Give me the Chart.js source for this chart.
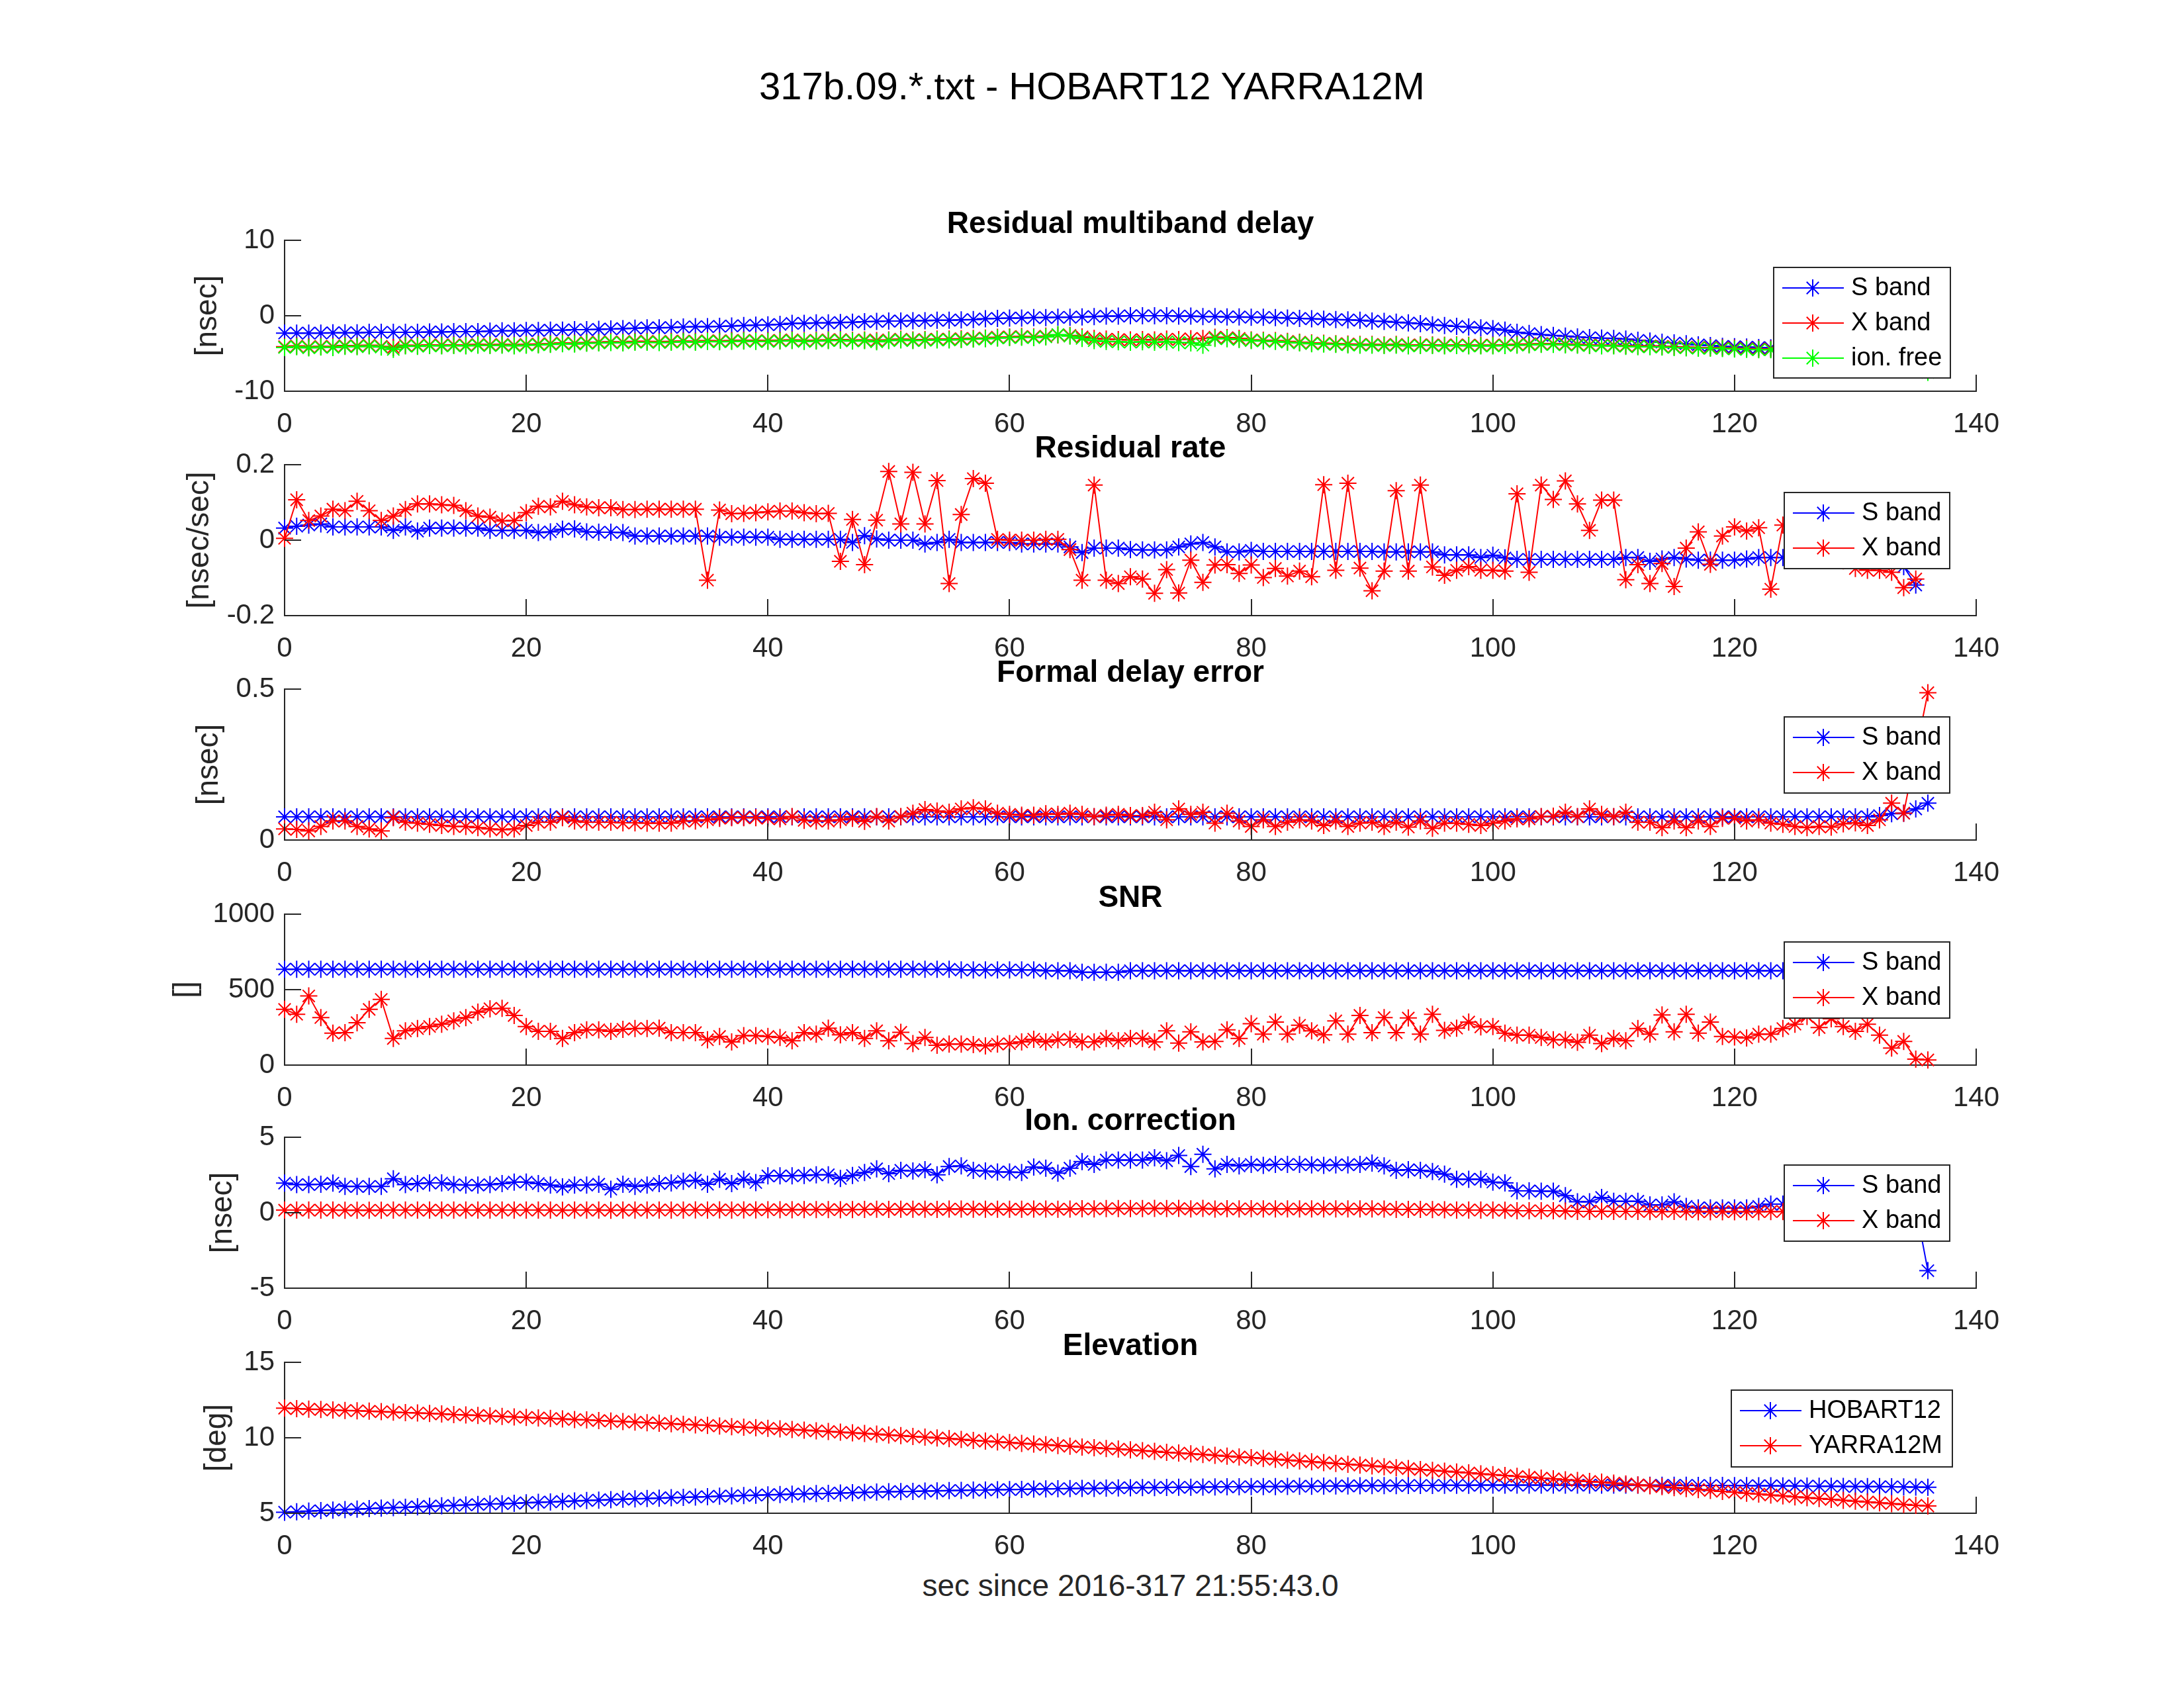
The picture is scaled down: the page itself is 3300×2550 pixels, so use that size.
<!DOCTYPE html>
<html>
<head>
<meta charset="utf-8">
<title>317b.09 - HOBART12 YARRA12M</title>
<script src="https://cdn.jsdelivr.net/npm/chart.js@4.4.1/dist/chart.umd.min.js"></script>
<style>
  body { margin: 0; background: #fff; }
  #fig { position: relative; width: 3300px; height: 2550px; background: #fff; font-family: "Liberation Sans", Arial, sans-serif; }
  #fig canvas { position: absolute; left: 0; }
  .lbl { position: absolute; text-align: center; white-space: nowrap; }
</style>
</head>
<body>
<div id="fig">
  <div class="lbl" style="left:0;width:3300px;top:100px;font-size:58px;line-height:60px;color:#000">317b.09.*.txt - HOBART12 YARRA12M</div>
  <div class="lbl" style="left:430px;width:2556px;top:2369px;font-size:46px;line-height:52px;color:#262626">sec since 2016-317 21:55:43.0</div>
</div>
<script>
// sample times, sec
var secs = [0,1,2,3,4,5,6,7,8,9,10,11,12,13,14,15,16,17,18,19,
  20,21,22,23,24,25,26,27,28,29,30,31,32,33,34,35,36,37,38,39,
  40,41,42,43,44,45,46,47,48,49,50,51,52,53,54,55,56,57,58,59,
  60,61,62,63,64,65,66,67,68,69,70,71,72,73,74,75,76,77,78,79,
  80,81,82,83,84,85,86,87,88,89,90,91,92,93,94,95,96,97,98,99,
  100,101,102,103,104,105,106,107,108,109,110,111,112,113,114,115,116,117,118,119,
  120,121,122,123,124,125,126,127,128,129,130,131,132,133,134,135,136];
// rate has one sample less
var secsRate = secs.slice(0, 136);

// residual multiband delay [nsec]
var delayS = [-2.3,-2.3,-2.3,-2.3,-2.25,-2.25,-2.25,-2.2,-2.2,-2.2,
  -2.2,-2.2,-2.15,-2.15,-2.1,-2.1,-2.1,-2.05,-2.0,-2.0,
  -1.95,-1.95,-1.9,-1.9,-1.85,-1.85,-1.8,-1.75,-1.7,-1.65,
  -1.6,-1.6,-1.55,-1.5,-1.45,-1.45,-1.4,-1.35,-1.3,-1.25,
  -1.2,-1.15,-1.0,-1.0,-0.95,-0.95,-0.9,-0.85,-0.8,-0.75,
  -0.7,-0.7,-0.65,-0.65,-0.6,-0.6,-0.55,-0.5,-0.4,-0.35,
  -0.3,-0.3,-0.25,-0.25,-0.2,-0.2,-0.15,-0.1,-0.05,-0.05,
  0.0,0.0,0.0,0.0,-0.05,-0.05,-0.1,-0.1,-0.15,-0.15,
  -0.2,-0.2,-0.25,-0.3,-0.35,-0.4,-0.45,-0.5,-0.55,-0.6,
  -0.7,-0.75,-0.85,-0.95,-1.05,-1.2,-1.3,-1.4,-1.5,-1.6,
  -1.7,-1.9,-2.2,-2.35,-2.5,-2.6,-2.7,-2.8,-2.9,-2.95,
  -3.0,-3.1,-3.25,-3.35,-3.5,-3.6,-3.7,-3.85,-3.95,-4.05,
  -4.1,-4.15,-4.2,-4.25,-4.3,-4.3,-4.4,-4.45,-4.5,-4.55,
  -4.6,-4.65,-4.7,-4.75,-4.8,-4.85,-4.9];
var delayX = [-4.1,-4.0,-4.15,-4.05,-4.1,-3.95,-4.0,-3.9,-4.05,-4.2,
  -3.9,-3.95,-3.85,-3.9,-3.85,-3.9,-3.8,-3.85,-3.8,-3.9,
  -3.8,-3.75,-3.7,-3.6,-3.65,-3.55,-3.5,-3.45,-3.5,-3.4,
  -3.4,-3.45,-3.4,-3.35,-3.4,-3.3,-3.35,-3.3,-3.25,-3.3,
  -3.3,-3.25,-3.2,-3.3,-3.25,-3.2,-3.15,-3.25,-3.2,-3.3,
  -3.2,-3.1,-3.2,-3.15,-3.1,-3.1,-3.05,-3.0,-2.95,-2.85,
  -2.8,-2.75,-2.8,-2.7,-2.55,-2.6,-2.8,-3.0,-3.1,-3.15,
  -3.2,-3.15,-3.2,-3.1,-3.15,-3.05,-3.0,-2.85,-2.9,-3.0,
  -3.2,-3.25,-3.3,-3.4,-3.5,-3.6,-3.65,-3.7,-3.75,-3.8,
  -3.8,-3.85,-3.8,-3.9,-3.85,-3.85,-3.9,-3.85,-3.9,-3.9,
  -3.9,-3.85,-3.8,-3.75,-3.7,-3.7,-3.75,-3.8,-3.85,-3.9,
  -3.9,-3.95,-4.0,-4.0,-4.05,-4.1,-4.15,-4.2,-4.2,-4.25,
  -4.3,-4.35,-4.4,-4.4,-4.45,-4.5,-4.55,-4.6,-4.6,-4.65,
  -4.7,-4.75,-4.8,-4.85,-4.9,-5.0,-5.3];
var delayIon = [-4.2,-4.1,-4.25,-4.15,-4.2,-4.05,-4.1,-4.0,-4.15,-4.45,
  -4.0,-4.05,-3.95,-4.0,-3.95,-4.0,-3.9,-3.95,-3.9,-4.0,
  -3.9,-3.85,-3.8,-3.7,-3.75,-3.65,-3.6,-3.55,-3.6,-3.5,
  -3.5,-3.55,-3.5,-3.45,-3.5,-3.4,-3.45,-3.4,-3.35,-3.4,
  -3.4,-3.35,-3.3,-3.4,-3.35,-3.3,-3.25,-3.35,-3.3,-3.45,
  -3.3,-3.2,-3.3,-3.25,-3.2,-3.2,-3.15,-3.1,-3.05,-2.95,
  -2.9,-2.85,-2.9,-2.8,-2.5,-2.7,-3.0,-3.3,-3.4,-3.45,
  -3.5,-3.45,-3.5,-3.45,-3.55,-3.6,-3.9,-3.0,-3.05,-3.15,
  -3.3,-3.35,-3.4,-3.5,-3.6,-3.7,-3.75,-3.8,-3.85,-3.9,
  -3.9,-3.95,-3.9,-4.0,-3.95,-3.95,-4.0,-3.95,-4.0,-4.0,
  -4.0,-3.95,-3.9,-3.85,-3.8,-3.8,-3.85,-3.9,-3.95,-4.0,
  -4.0,-4.05,-4.1,-4.1,-4.15,-4.2,-4.25,-4.3,-4.3,-4.35,
  -4.4,-4.45,-4.5,-4.5,-4.55,-4.6,-4.65,-4.7,-4.7,-4.75,
  -4.8,-4.85,-4.9,-4.95,-5.0,-5.2,-7.5];

// residual rate [nsec/sec]
var rateS = [0.032,0.037,0.040,0.043,0.035,0.035,0.035,0.035,0.035,0.026,
  0.035,0.024,0.032,0.032,0.032,0.032,0.032,0.026,0.026,0.026,
  0.026,0.020,0.022,0.029,0.030,0.022,0.021,0.021,0.020,0.011,
  0.011,0.011,0.011,0.011,0.011,0.011,0.008,0.008,0.008,0.008,
  0.008,0.002,0.002,0.002,0.002,0.002,0.002,-0.006,0.012,0.003,
  0.000,0.000,0.000,-0.010,-0.006,0.002,-0.006,-0.006,-0.006,-0.006,
  -0.006,-0.010,-0.010,-0.010,-0.010,-0.018,-0.033,-0.021,-0.021,-0.021,
  -0.025,-0.026,-0.026,-0.026,-0.018,-0.010,-0.006,-0.018,-0.031,-0.031,
  -0.027,-0.030,-0.030,-0.030,-0.030,-0.030,-0.030,-0.030,-0.030,-0.030,
  -0.030,-0.031,-0.031,-0.031,-0.031,-0.031,-0.039,-0.039,-0.039,-0.046,
  -0.040,-0.047,-0.051,-0.051,-0.051,-0.051,-0.051,-0.051,-0.051,-0.051,
  -0.051,-0.046,-0.046,-0.056,-0.050,-0.046,-0.050,-0.053,-0.053,-0.053,
  -0.053,-0.050,-0.046,-0.046,-0.046,-0.045,-0.045,-0.044,-0.044,-0.043,
  -0.043,-0.044,-0.045,-0.050,-0.070,-0.119];
var rateX = [0.005,0.107,0.052,0.064,0.082,0.078,0.103,0.078,0.052,0.064,
  0.081,0.096,0.096,0.094,0.092,0.078,0.064,0.061,0.051,0.052,
  0.073,0.090,0.088,0.103,0.094,0.088,0.086,0.086,0.081,0.081,
  0.082,0.082,0.082,0.082,0.082,-0.106,0.080,0.070,0.071,0.073,
  0.075,0.077,0.077,0.073,0.070,0.071,-0.056,0.055,-0.065,0.053,
  0.182,0.043,0.180,0.043,0.158,-0.115,0.068,0.163,0.151,0.002,
  0.000,0.000,0.000,0.002,0.002,-0.025,-0.106,0.146,-0.106,-0.115,
  -0.097,-0.103,-0.141,-0.078,-0.140,-0.053,-0.112,-0.066,-0.065,-0.088,
  -0.066,-0.099,-0.075,-0.095,-0.082,-0.097,0.147,-0.080,0.151,-0.074,
  -0.134,-0.082,0.131,-0.082,0.146,-0.071,-0.093,-0.080,-0.070,-0.080,
  -0.080,-0.082,0.123,-0.085,0.146,0.108,0.157,0.096,0.026,0.106,
  0.106,-0.105,-0.065,-0.115,-0.062,-0.123,-0.021,0.022,-0.064,0.011,
  0.035,0.024,0.033,-0.130,0.040,0.005,-0.030,0.010,-0.040,-0.055,
  -0.075,-0.080,-0.080,-0.085,-0.126,-0.103];

// formal delay error [nsec]
var errS = [0.077,0.077,0.077,0.077,0.077,0.077,0.077,0.077,0.077,0.077,
  0.077,0.077,0.077,0.077,0.077,0.077,0.077,0.077,0.077,0.077,
  0.077,0.077,0.077,0.077,0.077,0.077,0.077,0.077,0.077,0.077,
  0.077,0.077,0.077,0.077,0.077,0.077,0.077,0.077,0.077,0.077,
  0.077,0.077,0.077,0.077,0.077,0.077,0.077,0.077,0.077,0.077,
  0.077,0.077,0.077,0.077,0.077,0.077,0.077,0.077,0.077,0.077,
  0.077,0.077,0.077,0.077,0.077,0.077,0.077,0.077,0.077,0.077,
  0.077,0.077,0.077,0.077,0.077,0.077,0.077,0.077,0.077,0.077,
  0.077,0.077,0.077,0.077,0.077,0.077,0.077,0.077,0.077,0.077,
  0.077,0.077,0.077,0.077,0.077,0.077,0.077,0.077,0.077,0.077,
  0.077,0.077,0.077,0.077,0.077,0.077,0.077,0.077,0.077,0.077,
  0.077,0.077,0.077,0.077,0.077,0.077,0.077,0.077,0.077,0.077,
  0.077,0.077,0.077,0.077,0.077,0.077,0.077,0.077,0.077,0.077,
  0.077,0.077,0.081,0.087,0.089,0.103,0.122];
var errX = [0.037,0.035,0.030,0.045,0.063,0.063,0.045,0.037,0.030,0.074,
  0.059,0.056,0.052,0.048,0.045,0.045,0.041,0.037,0.034,0.037,
  0.048,0.059,0.059,0.074,0.063,0.059,0.059,0.059,0.057,0.057,
  0.056,0.056,0.056,0.063,0.063,0.067,0.072,0.074,0.074,0.074,
  0.072,0.070,0.078,0.065,0.063,0.063,0.067,0.072,0.062,0.078,
  0.063,0.078,0.089,0.101,0.096,0.092,0.103,0.107,0.103,0.089,
  0.085,0.082,0.082,0.087,0.085,0.089,0.085,0.078,0.082,0.085,
  0.081,0.081,0.092,0.067,0.103,0.085,0.092,0.056,0.089,0.063,
  0.045,0.067,0.045,0.059,0.067,0.063,0.048,0.063,0.045,0.056,
  0.059,0.045,0.059,0.043,0.063,0.039,0.056,0.056,0.052,0.048,
  0.056,0.063,0.070,0.070,0.078,0.079,0.092,0.078,0.103,0.085,
  0.078,0.092,0.059,0.059,0.041,0.063,0.041,0.063,0.045,0.072,
  0.072,0.063,0.067,0.056,0.052,0.045,0.041,0.045,0.043,0.054,
  0.057,0.048,0.067,0.122,0.089,0.290,0.488];

// SNR
var snrS = [635,635,635,635,635,635,635,635,635,635,
  635,635,635,635,635,635,635,635,635,635,
  635,635,635,635,635,635,635,635,635,635,
  635,635,635,635,635,635,635,635,635,635,
  635,635,635,635,635,635,635,635,635,635,
  635,635,635,635,635,635,630,630,630,630,
  630,630,630,625,625,625,615,615,615,615,
  625,625,625,625,625,625,625,625,625,625,
  625,625,625,625,625,625,625,625,625,625,
  625,625,625,625,625,625,625,625,625,625,
  625,625,625,625,625,625,625,625,625,625,
  625,625,625,625,625,625,625,625,625,625,
  625,625,625,625,625,625,625,625,625,625,
  625,625,625,625,625,625,625];
var snrX = [369,337,458,315,212,215,281,369,435,176,
  227,242,256,271,293,315,351,373,376,329,
  256,224,224,176,215,234,234,224,237,242,
  242,245,215,215,215,168,190,154,195,195,
  190,183,161,215,205,245,201,215,176,227,
  161,217,142,183,132,139,139,136,127,139,
  142,154,171,154,168,171,154,154,176,161,
  176,176,154,227,146,220,154,157,234,176,
  274,205,285,205,264,227,201,293,205,329,
  215,315,215,312,205,337,230,245,285,253,
  256,212,198,198,183,168,168,151,198,142,
  176,161,242,205,332,220,337,212,285,190,
  186,180,205,205,242,271,322,249,307,256,
  224,271,198,113,157,40,34];

// ionospheric correction [nsec]
var ionS = [1.96,1.86,1.86,1.89,1.96,1.74,1.74,1.74,1.74,2.25,
  1.86,1.93,1.97,1.97,1.86,1.83,1.83,1.86,1.93,2.03,
  2.03,1.93,1.83,1.71,1.83,1.83,1.89,1.56,1.89,1.74,
  1.83,1.93,1.97,2.08,2.15,1.89,2.22,1.93,2.22,2.00,
  2.44,2.44,2.44,2.47,2.51,2.51,2.27,2.47,2.66,2.91,
  2.59,2.81,2.76,2.85,2.51,3.06,3.10,2.81,2.76,2.70,
  2.70,2.66,3.03,2.95,2.62,2.95,3.39,3.20,3.49,3.49,
  3.49,3.49,3.64,3.44,3.79,3.06,3.87,2.91,3.20,3.10,
  3.20,3.14,3.20,3.20,3.20,3.17,3.14,3.17,3.17,3.20,
  3.29,3.10,2.81,2.85,2.81,2.73,2.56,2.22,2.22,2.22,
  2.03,1.97,1.45,1.45,1.42,1.42,1.13,0.72,0.72,1.01,
  0.76,0.76,0.76,0.51,0.51,0.72,0.42,0.32,0.32,0.32,
  0.32,0.32,0.42,0.57,0.57,0.60,0.55,0.50,0.55,0.50,
  0.45,0.50,0.45,0.40,0.45,0.40,-3.84];
var ionX = [0.17,0.17,0.17,0.17,0.17,0.16,0.16,0.16,0.16,0.18,
  0.17,0.17,0.17,0.17,0.17,0.17,0.17,0.17,0.17,0.18,
  0.18,0.17,0.17,0.16,0.17,0.17,0.17,0.16,0.17,0.17,
  0.17,0.18,0.18,0.18,0.19,0.18,0.19,0.18,0.19,0.19,
  0.20,0.20,0.20,0.21,0.21,0.21,0.20,0.21,0.22,0.23,
  0.22,0.23,0.23,0.23,0.22,0.24,0.24,0.23,0.23,0.23,
  0.23,0.23,0.24,0.24,0.23,0.24,0.26,0.25,0.27,0.27,
  0.27,0.27,0.28,0.27,0.28,0.25,0.28,0.24,0.26,0.25,
  0.26,0.25,0.25,0.25,0.25,0.25,0.25,0.25,0.25,0.25,
  0.25,0.24,0.22,0.22,0.22,0.21,0.20,0.18,0.18,0.18,
  0.17,0.16,0.13,0.13,0.13,0.13,0.11,0.09,0.09,0.10,
  0.09,0.09,0.09,0.08,0.08,0.09,0.07,0.07,0.07,0.07,
  0.07,0.07,0.07,0.08,0.08,0.08,0.08,0.07,0.08,0.07,
  0.07,0.07,0.07,0.06,0.07,0.06,-0.29];

// elevation [deg]
var elevHobart = [5.07,5.10,5.14,5.17,5.21,5.24,5.27,5.31,5.34,5.37,
  5.40,5.43,5.46,5.49,5.52,5.55,5.58,5.61,5.63,5.66,
  5.69,5.72,5.75,5.78,5.81,5.84,5.87,5.90,5.93,5.95,
  5.98,6.00,6.03,6.05,6.08,6.10,6.13,6.15,6.17,6.20,
  6.22,6.24,6.26,6.28,6.30,6.32,6.34,6.36,6.38,6.40,
  6.42,6.44,6.45,6.47,6.48,6.50,6.51,6.53,6.54,6.56,
  6.57,6.58,6.60,6.61,6.62,6.63,6.64,6.65,6.67,6.68,
  6.69,6.70,6.70,6.71,6.72,6.72,6.73,6.74,6.75,6.75,
  6.76,6.77,6.77,6.78,6.79,6.79,6.80,6.81,6.81,6.82,
  6.83,6.83,6.83,6.84,6.84,6.84,6.85,6.85,6.85,6.86,
  6.86,6.86,6.86,6.86,6.86,6.86,6.86,6.86,6.86,6.86,
  6.86,6.86,6.86,6.85,6.85,6.85,6.85,6.84,6.84,6.84,
  6.83,6.83,6.82,6.82,6.81,6.81,6.80,6.79,6.79,6.78,
  6.77,6.76,6.76,6.75,6.74,6.73,6.72];
var elevYarra = [11.96,11.93,11.90,11.87,11.84,11.81,11.79,11.76,11.73,11.70,
  11.67,11.64,11.61,11.58,11.54,11.51,11.48,11.45,11.41,11.38,
  11.35,11.32,11.28,11.25,11.21,11.18,11.14,11.11,11.07,11.04,
  11.00,10.96,10.93,10.89,10.85,10.82,10.78,10.74,10.70,10.67,
  10.63,10.59,10.55,10.50,10.46,10.42,10.37,10.33,10.28,10.24,
  10.19,10.14,10.09,10.04,9.99,9.94,9.89,9.83,9.78,9.73,
  9.68,9.63,9.58,9.54,9.49,9.44,9.39,9.34,9.29,9.25,
  9.20,9.15,9.10,9.04,8.99,8.94,8.89,8.84,8.78,8.73,
  8.68,8.63,8.57,8.52,8.47,8.41,8.36,8.30,8.25,8.19,
  8.14,8.08,8.02,7.96,7.90,7.84,7.79,7.73,7.67,7.61,
  7.55,7.50,7.44,7.39,7.33,7.28,7.22,7.17,7.11,7.06,
  7.00,6.94,6.88,6.82,6.76,6.70,6.63,6.57,6.51,6.45,
  6.39,6.33,6.27,6.21,6.15,6.09,6.03,5.98,5.92,5.86,
  5.80,5.75,5.69,5.64,5.58,5.53,5.48];

// tick labels
var xTicks = [0, 20, 40, 60, 80, 100, 120, 140];
var yTicksDelay = [-10, 0, 10];
var yTicksRate = [-0.2, 0, 0.2];
var yTicksErr = [0, 0.5];
var yTicksSnr = [0, 500, 1000];
var yTicksIon = [-5, 0, 5];
var yTicksElev = [5, 10, 15];

var BLUE = '#0000ff', RED = '#ff0000', GREEN = '#00ff00', AX = '#262626';
var FONT = '"Liberation Sans", Arial, sans-serif';
Chart.defaults.font.family = FONT;
Chart.defaults.color = AX;

// asterisk marker like matlab '*'
function drawStar(ctx, x, y, r, color) {
  var d = r * Math.SQRT1_2;
  ctx.strokeStyle = color;
  ctx.lineWidth = 2;
  ctx.beginPath();
  ctx.moveTo(x, y - r); ctx.lineTo(x, y + r);
  ctx.moveTo(x - r, y); ctx.lineTo(x + r, y);
  ctx.moveTo(x - d, y - d); ctx.lineTo(x + d, y + d);
  ctx.moveTo(x - d, y + d); ctx.lineTo(x + d, y - d);
  ctx.stroke();
}

// inward ticks, subplot title, ylabel and boxed legend
var matlabAxes = {
  id: 'matlabAxes',
  afterDatasetsDraw: function(chart, args, o) {
    var ctx = chart.ctx, a = chart.chartArea;
    var xs = chart.scales.x, ys = chart.scales.y;
    ctx.save();
    ctx.strokeStyle = AX;
    ctx.lineWidth = 2;
    ctx.beginPath();
    xs.ticks.forEach(function(t) {
      var px = Math.round(xs.getPixelForValue(t.value));
      ctx.moveTo(px, a.bottom); ctx.lineTo(px, a.bottom - 25);
    });
    ys.ticks.forEach(function(t) {
      var py = Math.round(ys.getPixelForValue(t.value));
      ctx.moveTo(a.left, py); ctx.lineTo(a.left + 25, py);
    });
    ctx.stroke();

    ctx.fillStyle = '#000';
    ctx.font = 'bold 46px ' + FONT;
    ctx.textAlign = 'center';
    ctx.textBaseline = 'alphabetic';
    ctx.fillText(o.title, (a.left + a.right) / 2, a.top - 11);

    ctx.font = '42px ' + FONT;
    var w = 0;
    ys.ticks.forEach(function(t) { w = Math.max(w, ctx.measureText(String(t.label)).width); });
    ctx.save();
    ctx.translate(a.left - 15 - w - 40, (a.top + a.bottom) / 2);
    ctx.rotate(-Math.PI / 2);
    ctx.fillStyle = AX;
    ctx.font = '46px ' + FONT;
    ctx.textBaseline = 'middle';
    ctx.fillText(o.ylabel, 0, 0);
    ctx.restore();

    // legend
    var L = o.legend;
    var lx = a.left + L.dx, ly = a.top + L.dy;
    ctx.fillStyle = '#fff';
    ctx.fillRect(lx, ly, L.w, L.h);
    ctx.strokeStyle = AX;
    ctx.lineWidth = 2;
    ctx.strokeRect(lx, ly, L.w, L.h);
    chart.data.datasets.forEach(function(ds, i) {
      var cy = ly + 31 + 53 * i;
      ctx.strokeStyle = ds.borderColor;
      ctx.lineWidth = 2;
      ctx.beginPath();
      ctx.moveTo(lx + 13, cy); ctx.lineTo(lx + 106, cy);
      ctx.stroke();
      drawStar(ctx, lx + 59, cy, 13, ds.borderColor);
      ctx.fillStyle = '#000';
      ctx.font = '38px ' + FONT;
      ctx.textAlign = 'left';
      ctx.textBaseline = 'middle';
      ctx.fillText(ds.label, lx + 117, cy + 1);
    });
    ctx.restore();
  }
};

var legSmall = {dx: 2266, dy: 42, w: 250, h: 115};

var panels = [
  {top: 363, title: 'Residual multiband delay', ylabel: '[nsec]', ymin: -10, ymax: 10, yticks: yTicksDelay,
   legend: {dx: 2250, dy: 41, w: 267, h: 167},
   series: [
     {label: 'S band', x: secs, y: delayS, color: BLUE},
     {label: 'X band', x: secs, y: delayX, color: RED},
     {label: 'ion. free', x: secs, y: delayIon, color: GREEN}]},
  {top: 702, title: 'Residual rate', ylabel: '[nsec/sec]', ymin: -0.2, ymax: 0.2, yticks: yTicksRate,
   legend: legSmall,
   series: [
     {label: 'S band', x: secsRate, y: rateS, color: BLUE},
     {label: 'X band', x: secsRate, y: rateX, color: RED}]},
  {top: 1041, title: 'Formal delay error', ylabel: '[nsec]', ymin: 0, ymax: 0.5, yticks: yTicksErr,
   legend: legSmall,
   series: [
     {label: 'S band', x: secs, y: errS, color: BLUE},
     {label: 'X band', x: secs, y: errX, color: RED}]},
  {top: 1381, title: 'SNR', ylabel: '[]', ymin: 0, ymax: 1000, yticks: yTicksSnr,
   legend: legSmall,
   series: [
     {label: 'S band', x: secs, y: snrS, color: BLUE},
     {label: 'X band', x: secs, y: snrX, color: RED}]},
  {top: 1718, title: 'Ion. correction', ylabel: '[nsec]', ymin: -5, ymax: 5, yticks: yTicksIon,
   legend: legSmall,
   series: [
     {label: 'S band', x: secs, y: ionS, color: BLUE},
     {label: 'X band', x: secs, y: ionX, color: RED}]},
  {top: 2058, title: 'Elevation', ylabel: '[deg]', ymin: 5, ymax: 15, yticks: yTicksElev,
   legend: {dx: 2186, dy: 42, w: 334, h: 116},
   series: [
     {label: 'HOBART12', x: secs, y: elevHobart, color: BLUE},
     {label: 'YARRA12M', x: secs, y: elevYarra, color: RED}]}
];

var fig = document.getElementById('fig');

function makePanel(p) {
  var cv = document.createElement('canvas');
  cv.width = 3300;
  cv.height = 398;
  cv.style.top = (p.top - 90) + 'px';
  fig.appendChild(cv);

  var n = p.series.length;
  var sets = p.series.map(function(s, i) {
    return {
      label: s.label,
      data: s.y.map(function(v, k) { return {x: s.x[k], y: v}; }),
      borderColor: s.color,
      backgroundColor: s.color,
      pointBorderColor: s.color,
      borderWidth: 2,
      pointStyle: 'star',
      pointRadius: 13,
      pointBorderWidth: 2,
      tension: 0,
      fill: false,
      clip: false,
      order: n - i   // later series drawn on top, as in matlab
    };
  });

  new Chart(cv, {
    type: 'line',
    data: {datasets: sets},
    options: {
      responsive: false,
      animation: false,
      devicePixelRatio: 1,
      events: [],
      layout: {padding: {top: 90, left: 0, right: 314, bottom: 0}},
      plugins: {
        legend: {display: false},
        title: {display: false},
        tooltip: {enabled: false},
        matlabAxes: {title: p.title, ylabel: p.ylabel, legend: p.legend}
      },
      scales: {
        x: {
          type: 'linear', min: 0, max: 140,
          afterFit: function(s) { s.height = 80; },
          afterBuildTicks: function(s) { s.ticks = xTicks.map(function(v) { return {value: v}; }); },
          grid: {display: false, drawTicks: false},
          border: {display: true, color: AX, width: 2},
          ticks: {color: AX, font: {size: 42}, padding: 25, maxRotation: 0, autoSkip: false,
                  callback: function(v) { return String(v); }}
        },
        y: {
          type: 'linear', min: p.ymin, max: p.ymax,
          afterFit: function(s) { s.width = 430; },
          afterBuildTicks: function(s) { s.ticks = p.yticks.map(function(v) { return {value: v}; }); },
          grid: {display: false, drawTicks: false},
          border: {display: true, color: AX, width: 2},
          ticks: {color: AX, font: {size: 42}, padding: 15, autoSkip: false,
                  callback: function(v) { return String(v); }}
        }
      }
    },
    plugins: [matlabAxes]
  });
}

panels.forEach(makePanel);
</script>
</body>
</html>
